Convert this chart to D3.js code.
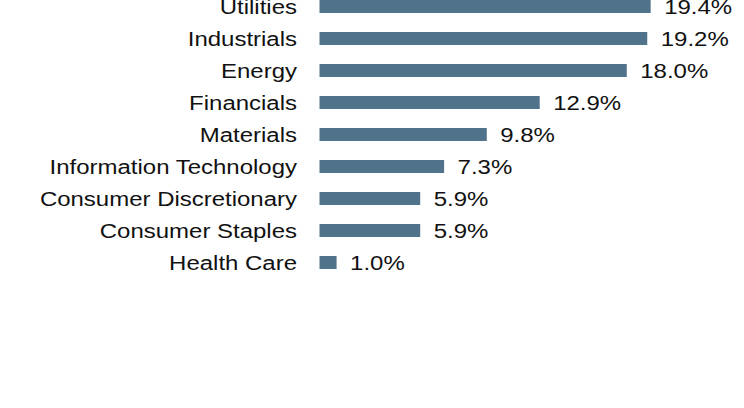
<!DOCTYPE html>
<html>
<head>
<meta charset="utf-8">
<script src="https://cdn.jsdelivr.net/npm/d3@7"></script>
<style>
  html, body { margin: 0; padding: 0; background: #fff; }
  svg { display: block; }
  text { font-family: "Liberation Sans", Arial, sans-serif; font-size: 19.5px; fill: #111; }
</style>
</head>
<body>
<svg id="chart" width="744" height="408"></svg>
<script>
const categories = ["Utilities", "Industrials", "Energy", "Financials", "Materials",
  "Information Technology", "Consumer Discretionary", "Consumer Staples", "Health Care"];
const values = [19.4, 19.2, 18.0, 12.9, 9.8, 7.3, 5.9, 5.9, 1.0];
const valueLabels = ["19.4%", "19.2%", "18.0%", "12.9%", "9.8%", "7.3%", "5.9%", "5.9%", "1.0%"];

const svg = d3.select("#chart");
const data = categories.map((c, i) => ({ c, v: values[i], l: valueLabels[i] }));

const x = d3.scaleLinear().domain([0, 20]).range([319.5, 319.5 + 341.4]);
const y = d3.scalePoint().domain(categories).range([6.5, 262.5]);
const barH = 13;
const sx = 1.23;

svg.selectAll("rect.bar").data(data).enter().append("rect")
  .attr("class", "bar")
  .attr("x", x(0))
  .attr("y", d => y(d.c) - barH / 2)
  .attr("width", d => x(d.v) - x(0))
  .attr("height", barH)
  .attr("fill", "#51728b");

svg.selectAll("text.cat").data(data).enter().append("text")
  .attr("class", "cat")
  .attr("transform", d => `translate(297,${y(d.c) + 7.5}) scale(${sx},1)`)
  .attr("text-anchor", "end")
  .text(d => d.c);

svg.selectAll("text.val").data(data).enter().append("text")
  .attr("class", "val")
  .attr("transform", d => `translate(${x(d.v) + 13.5},${y(d.c) + 7.5}) scale(${sx},1)`)
  .attr("text-anchor", "start")
  .text(d => d.l);
</script>
</body>
</html>
